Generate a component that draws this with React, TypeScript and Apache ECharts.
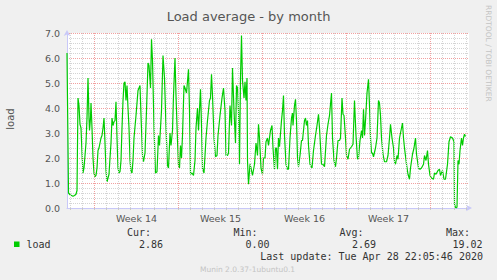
import React, { useEffect, useRef } from "react";
import * as echarts from "echarts";

// time in hours from the left edge of the graph, and load average at that time
const hours = [
  0, 3, 6, 9, 12, 15, 18, 20, 22, 24, 26, 28, 30, 32, 34, 36, 38, 40, 42, 44, 45, 47, 48, 50, 52, 54, 56, 58, 60,
  62, 64, 66, 68, 70, 72, 74, 76, 78, 80, 82, 84, 86, 88, 90, 92, 94, 96, 98, 100, 102, 104, 106, 108, 110, 112,
  114, 116, 118, 120, 122, 124, 126, 128, 130, 132, 134, 138, 142, 146, 148, 151, 153, 156, 159, 162, 164, 167,
  169, 171, 174, 177, 180, 183, 185, 187, 189, 192, 195, 198, 201, 203, 206, 208, 211, 213, 216, 218, 221, 223,
  225, 227, 229, 231, 234, 236, 239, 243, 245, 247, 250, 253, 256, 258, 261, 263, 267, 269, 271, 274, 278, 281,
  285, 287, 289, 291, 294, 297, 300, 302, 306, 310, 313, 316, 318, 321, 323, 326, 329, 331, 334, 337, 339, 341,
  343, 345, 347, 349, 351, 354, 356, 358, 360, 361, 363, 366, 368, 371, 375, 378, 381, 383, 385, 388, 391, 393,
  396, 398, 401, 403, 407, 410, 412, 415, 417, 419, 421, 423, 425, 429, 431, 433, 435, 438, 441, 443, 446, 449,
  451, 452, 455, 457, 459, 461, 463, 466, 469, 471, 475, 477, 479, 481, 483, 486, 490, 493, 497, 500, 503, 505,
  509, 512, 515, 519, 522, 525, 529, 531, 534, 537, 539, 542, 545, 547, 550, 552, 554, 557, 559, 562, 565, 569,
  572, 575, 578, 581, 583, 586, 589, 591, 593, 595, 597, 600, 603, 605, 607, 609, 611, 613, 617, 620, 623, 625,
  627, 629, 632, 635, 639, 642, 645, 647, 650, 653, 655, 657, 660, 662, 665, 669, 671, 673, 675, 679, 682, 685,
  687, 691, 694, 697, 699, 703, 706, 709, 713, 715, 718, 721, 723, 726, 729, 733, 735, 738, 742, 745, 747, 751,
  754, 757, 761, 764, 767, 771, 774, 775, 777, 779, 780, 782, 784, 786, 789, 791, 793, 795, 797,
];
const load = [
  6.2, 0.6, 0.53, 0.5, 0.47, 0.5, 0.55, 0.7, 4.4, 4.1, 3.35, 3.2, 2.2, 1.4, 1.6, 2.1, 2.6, 3.6, 5.2, 3.6, 3.1, 3.6,
  4.2, 3.2, 2.0, 1.4, 1.25, 1.3, 1.6, 2.3, 2.4, 2.6, 2.8, 2.9, 3.2, 3.6, 2.6, 1.5, 1.05, 1.2, 1.35, 2.0, 2.6, 3.6,
  3.3, 3.45, 3.5, 4.25, 2.8, 1.6, 1.4, 1.45, 1.9, 3.2, 4.3, 5.0, 5.05, 4.3, 4.9, 4.0, 3.2, 1.9, 1.45, 1.4, 1.9,
  2.8, 3.7, 4.7, 4.9, 3.7, 2.1, 1.85, 2.2, 3.9, 5.8, 5.7, 4.8, 6.75, 5.9, 3.2, 1.4, 1.45, 2.9, 2.5, 3.2, 3.9, 6.1,
  5.2, 3.2, 1.7, 1.6, 3.0, 2.5, 3.1, 4.5, 6.0, 4.5, 2.7, 1.7, 1.6, 2.5, 2.0, 2.9, 4.9, 4.8, 4.6, 5.55, 3.9, 1.35,
  1.4, 1.3, 1.9, 3.2, 4.0, 3.1, 4.75, 3.3, 1.6, 1.4, 2.8, 3.5, 4.3, 4.4, 5.35, 4.5, 2.8, 2.05, 2.1, 2.9, 3.7, 4.4,
  4.8, 3.9, 2.1, 2.1, 2.2, 4.1, 3.3, 5.6, 3.9, 2.6, 4.9, 4.8, 3.9, 1.75, 5.2, 6.9, 5.1, 4.4, 5.05, 4.3, 5.2, 1.9,
  0.95, 1.75, 1.6, 1.3, 1.75, 2.6, 2.1, 3.35, 2.8, 1.6, 1.35, 2.0, 2.0, 2.65, 2.8, 2.5, 3.1, 3.3, 2.4, 1.55, 2.4,
  2.4, 1.55, 2.8, 2.45, 3.5, 3.9, 4.5, 2.9, 1.75, 1.55, 1.55, 2.8, 3.6, 3.8, 3.3, 4.1, 4.35, 3.5, 2.0, 1.65, 2.1,
  2.7, 2.7, 3.5, 3.6, 3.3, 3.5, 2.5, 1.75, 1.6, 2.3, 2.9, 3.3, 3.75, 3.2, 1.75, 1.75, 1.65, 2.9, 3.35, 3.7, 4.6,
  2.8, 1.9, 1.65, 2.0, 2.7, 2.7, 2.8, 4.4, 3.75, 3.7, 2.8, 2.1, 1.95, 2.35, 2.45, 2.55, 4.3, 2.9, 1.95, 2.0, 2.7,
  3.1, 2.8, 3.95, 2.9, 3.5, 4.6, 5.15, 4.1, 2.8, 2.2, 2.2, 2.05, 2.4, 2.8, 4.3, 4.2, 3.7, 2.8, 2.15, 1.85, 1.85,
  2.1, 2.8, 3.35, 2.8, 2.4, 1.85, 1.75, 2.1, 1.95, 2.8, 3.2, 3.4, 2.8, 2.4, 1.75, 1.35, 1.15, 1.6, 2.15, 2.4, 2.8,
  2.15, 1.6, 1.55, 1.6, 1.75, 2.1, 1.9, 2.3, 1.75, 1.3, 1.2, 1.15, 1.4, 1.35, 1.5, 1.55, 1.3, 1.5, 1.15, 1.15,
  1.75, 2.65, 2.85, 2.8, 2.65, 0.15, 0.02, 0.0, 0.05, 1.9, 1.75, 2.3, 2.8, 2.5, 2.8, 2.95, 2.86,
];

const spanHours = 804; // graph width: 402 px at 2 hours per px
const firstMidnightHour = 7;
const weekStartHours = [55, 223, 391, 559, 727];
const weekNames = ["Week 14", "Week 15", "Week 16", "Week 17"];
const yMin = 0;
const yMax = 7;
const yStep = 1;

const seriesName = "load";
const statHeaders = ["Cur:", "Min:", "Avg:", "Max:"];
const statValues = ["2.86", "0.00", "2.69", "19.02"];
const lastUpdate = "Last update: Tue Apr 28 22:05:46 2020";
const footer = "Munin 2.0.37-1ubuntu0.1";
const titleText = "Load average - by month";
const sideText = "RRDTOOL / TOBI OETIKER";

const GREEN = "#00cc00";
const MONO = "'DejaVu Sans Mono', monospace";
const SANS = "'DejaVu Sans', sans-serif";

export default function App() {
  const ref = useRef<HTMLDivElement>(null);

  useEffect(() => {
    if (!ref.current) return;
    const chart = echarts.init(ref.current, null, { renderer: "svg" });

    const points = hours.map((h, i) => [h, load[i]]);
    const dayLines: any[] = [];
    for (let h = firstMidnightHour; h < spanHours; h += 24) {
      const isWeek = weekStartHours.includes(h);
      dayLines.push({
        xAxis: h,
        lineStyle: { color: isWeek ? "#f2a0a0" : "#d4d4d4", type: [1, 1], width: 1 },
      });
    }
    const dayTicks = dayLines.map((d) => d.xAxis);
    const labelHours = weekNames.map((_, i) => (weekStartHours[i] + weekStartHours[i + 1]) / 2);

    const statHeaderRight = [151, 257.5, 363.5, 470];
    const statValueRight = [163, 269.5, 376, 482.5];
    const graphics: any[] = [
      {
        type: "text",
        x: 10,
        y: 119,
        rotation: Math.PI / 2,
        style: { text: "load", fill: "#555", font: `10px ${SANS}`, align: "center", verticalAlign: "middle" },
      },
      {
        type: "text",
        x: 488,
        y: 5,
        rotation: -Math.PI / 2,
        style: { text: sideText, fill: "#c4c4c4", font: `7.5px ${SANS}`, align: "left", verticalAlign: "middle" },
      },
      { type: "rect", shape: { x: 14, y: 241.5, width: 5.5, height: 5.5 }, style: { fill: GREEN } },
      {
        type: "text",
        x: 26.5,
        y: 244.5,
        style: { text: seriesName, fill: "#333", font: `10px ${MONO}`, verticalAlign: "middle" },
      },
      {
        type: "text",
        x: 483,
        y: 256.3,
        style: { text: lastUpdate, fill: "#333", font: `10px ${MONO}`, align: "right", verticalAlign: "middle" },
      },
      {
        type: "text",
        x: 247.5,
        y: 269,
        style: { text: footer, fill: "#c4c4c4", font: `7.5px ${SANS}`, align: "center", verticalAlign: "middle" },
      },
    ];
    statHeaders.forEach((t, i) => {
      graphics.push({
        type: "text",
        x: statHeaderRight[i],
        y: 232.7,
        style: { text: t, fill: "#333", font: `10px ${MONO}`, align: "right", verticalAlign: "middle" },
      });
      graphics.push({
        type: "text",
        x: statValueRight[i],
        y: 244.5,
        style: { text: statValues[i], fill: "#333", font: `10px ${MONO}`, align: "right", verticalAlign: "middle" },
      });
    });

    chart.setOption({
      animation: false,
      backgroundColor: "#f0f0f0",
      title: {
        text: titleText,
        left: "center",
        top: 5,
        textStyle: { fontFamily: SANS, fontSize: 13, fontWeight: "normal", color: "#555" },
      },
      grid: {
        left: 67,
        right: 28,
        top: 33,
        bottom: 72,
        show: true,
        backgroundColor: "#ffffff",
        borderWidth: 0,
      },
      xAxis: {
        type: "value",
        min: 0,
        max: spanHours,
        axisLine: {
          show: true,
          lineStyle: { color: "#c8c8f8", width: 1 },
          symbol: ["none", "arrow"],
          symbolSize: [5, 6],
          symbolOffset: [0, 3],
        },
        axisTick: { show: true, customValues: dayTicks, length: 2, lineStyle: { color: "#c8c8c8" } },
        splitLine: { show: false },
        axisLabel: {
          customValues: labelHours,
          formatter: (v: number) => {
            const i = labelHours.indexOf(v);
            return i >= 0 ? weekNames[i] : "";
          },
          color: "#555",
          fontFamily: SANS,
          fontSize: 9.5,
          margin: 5,
        },
      },
      yAxis: {
        type: "value",
        min: yMin,
        max: yMax,
        interval: yStep,
        axisLine: {
          show: true,
          lineStyle: { color: "#c8c8f8", width: 1 },
          symbol: ["none", "arrow"],
          symbolSize: [5, 6],
          symbolOffset: [0, 3],
        },
        axisTick: { show: false },
        axisLabel: {
          formatter: (v: number) => v.toFixed(1),
          color: "#555",
          fontFamily: SANS,
          fontSize: 9.5,
          margin: 7,
        },
        splitLine: { show: true, lineStyle: { color: "#f2a0a0", type: [1, 1], width: 1 } },
        minorTick: { show: false, splitNumber: 5 },
        minorSplitLine: { show: true, lineStyle: { color: "#d4d4d4", type: [1, 1], width: 1 } },
      },
      graphic: graphics,
      series: [
        {
          type: "line",
          data: [],
          z: 1,
          silent: true,
          markLine: {
            silent: true,
            symbol: ["none", "none"],
            label: { show: false },
            emphasis: { disabled: true },
            data: dayLines,
          },
        },
        {
          type: "line",
          name: seriesName,
          data: points,
          z: 3,
          showSymbol: false,
          symbol: "none",
          lineStyle: { color: GREEN, width: 1.2 },
          silent: true,
        },
      ],
    });

    return () => chart.dispose();
  }, []);

  return (
    <div
      ref={ref}
      style={{ position: "fixed", left: 0, top: 0, width: 497, height: 280 }}
    />
  );
}
